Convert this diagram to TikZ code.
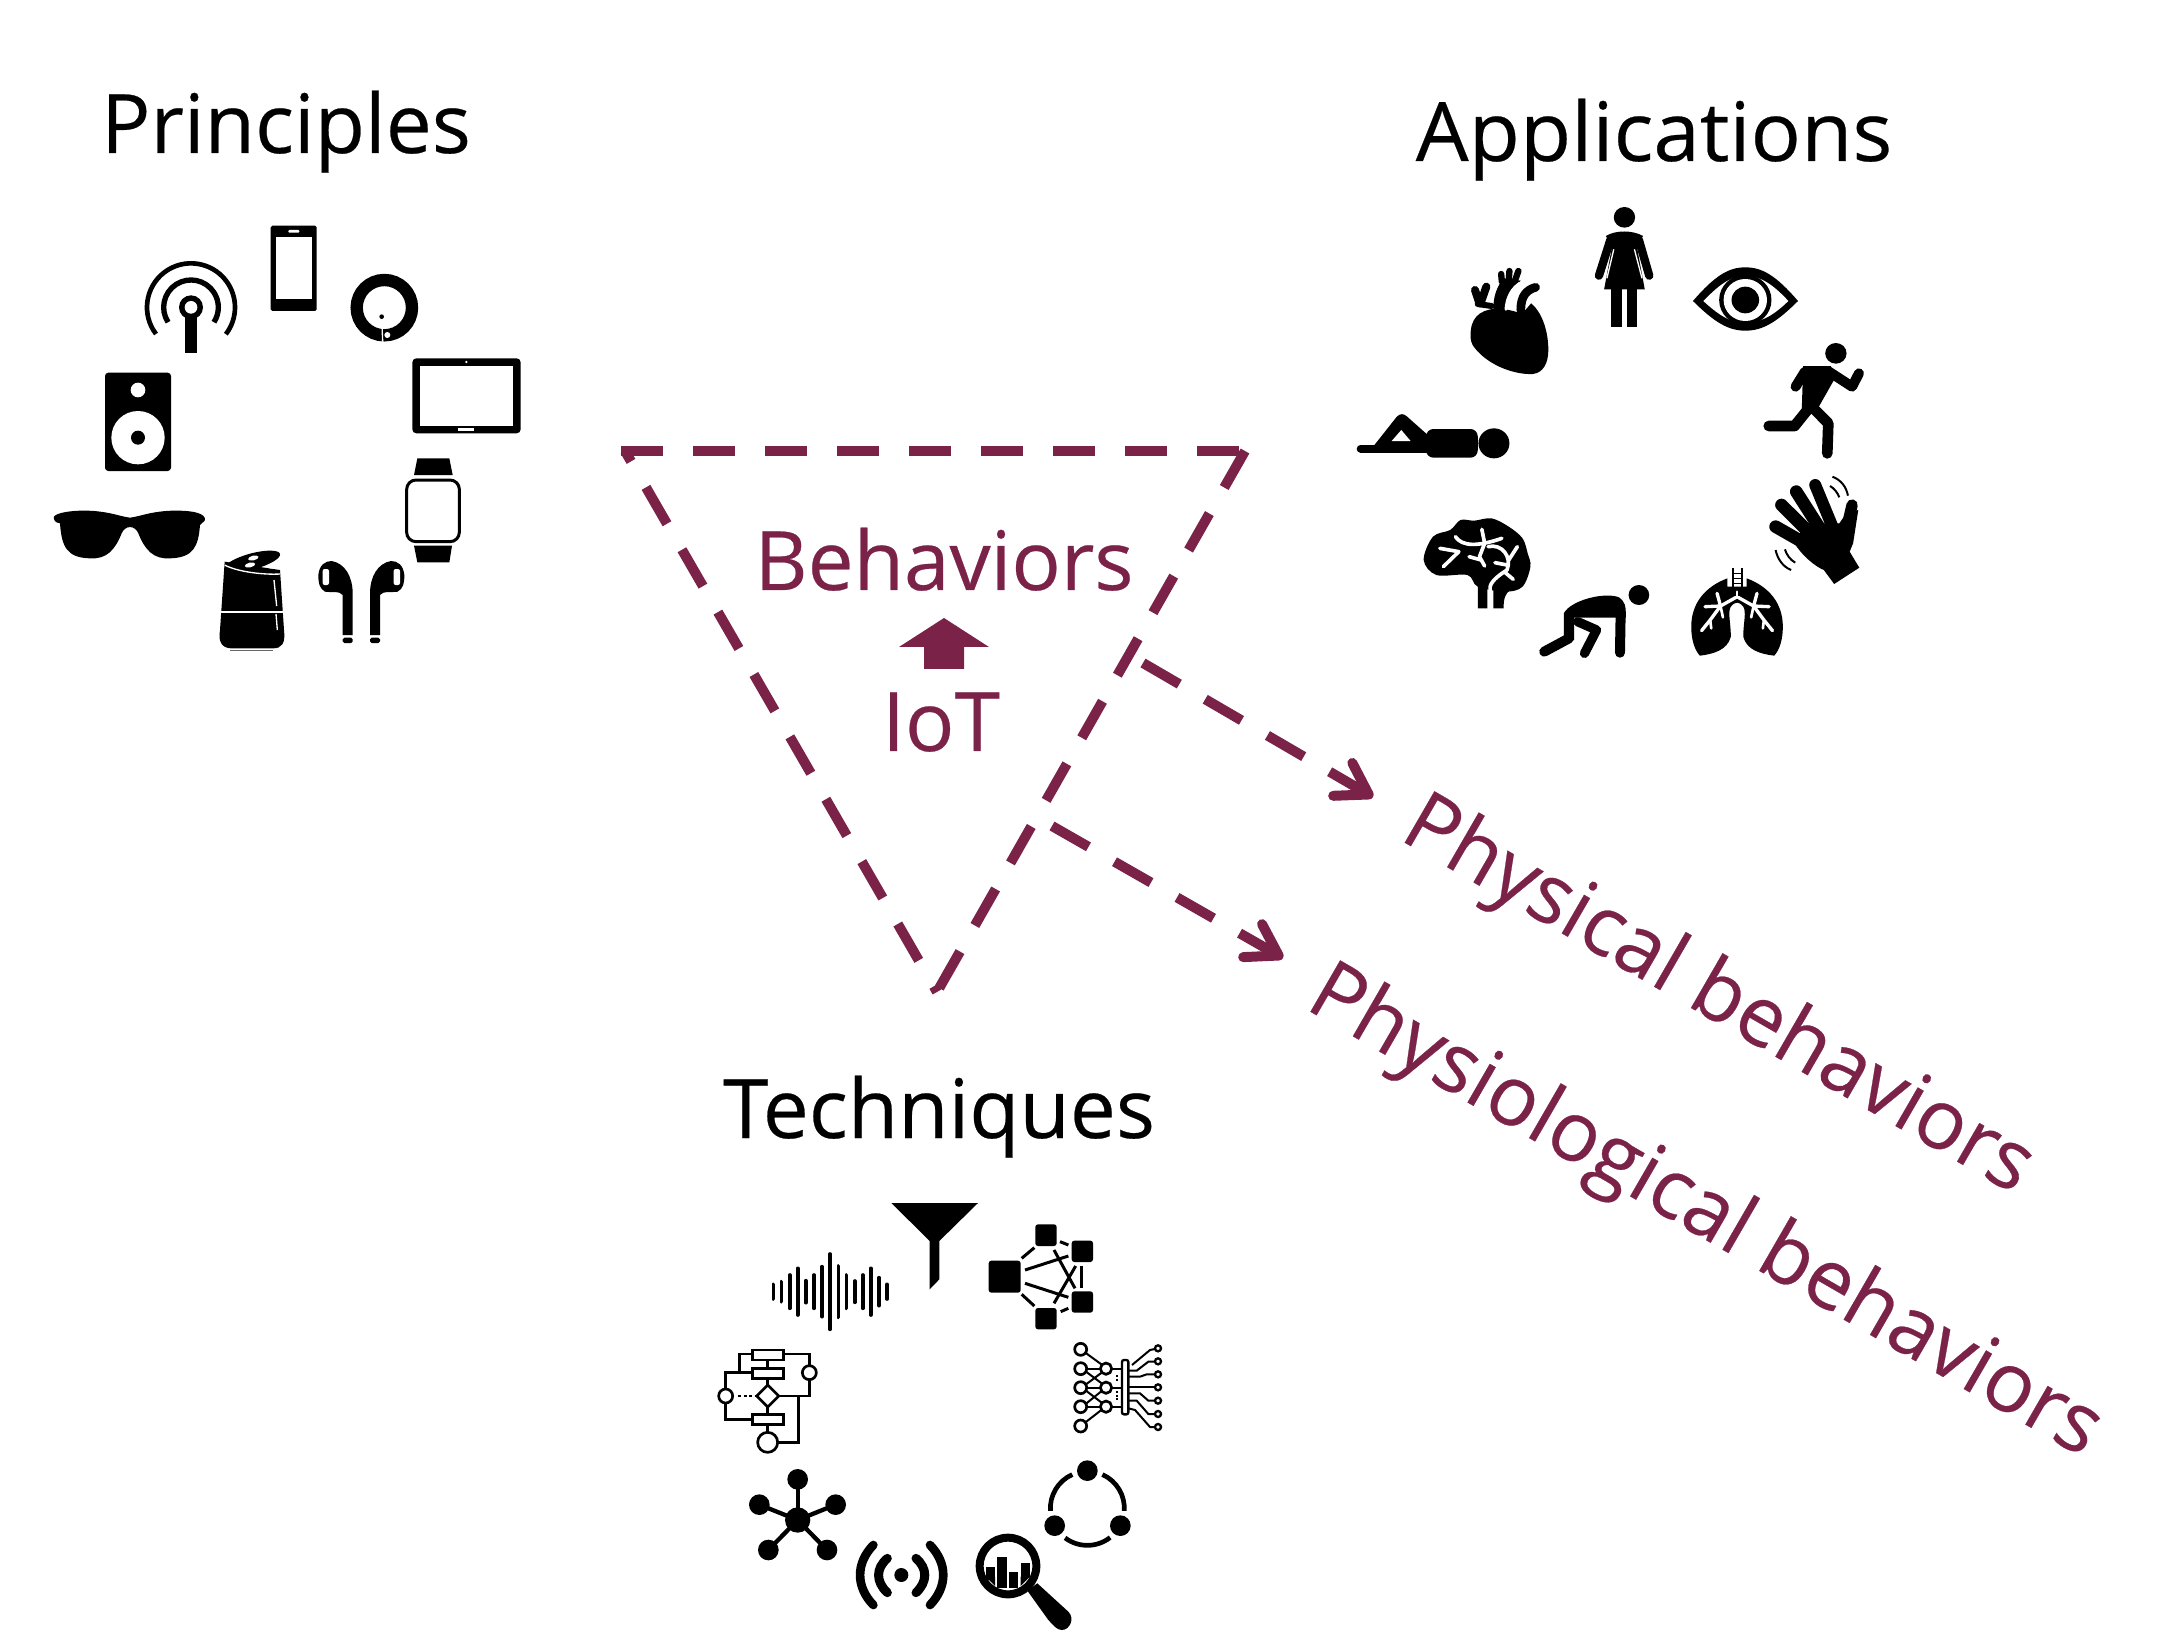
\documentclass[tikz,border=0pt]{standalone}
\usepackage{fontspec}
\usepackage{graphicx}
\setmainfont{Open Sans}
\newfontfamily\labelfont{Open Sans}[FakeBold=0.3]
\usetikzlibrary{arrows.meta}
\definecolor{maroon}{HTML}{7A2248}
\tikzset{
  zl/.style={line width=#1*.1667pt},
  rc/.style={rounded corners=#1*.1667pt},
  ztext/.style={inner sep=0pt,anchor=base,font=\labelfont\fontsize{41}{49}\selectfont},
  title/.style={ztext,text=black},
  accent/.style={ztext,text=maroon},
  slanted/.style={inner sep=0pt,anchor=center,rotate=-30,text=maroon,font=\labelfont\fontsize{41.5}{49}\selectfont},
  dashline/.style={draw=maroon,line width=5pt,dash pattern=on 21pt off 15pt},
  dasharrow/.style={dashline,-{Straight Barb[length=15pt,width=19pt,round]}},
  groupone/.style={shift={(30,200)},x=.16667pt,y=-.16667pt},
  grouptwo/.style={shift={(1340,190)},x=.17218pt,y=-.16667pt},
  groupthree/.style={shift={(700,1180)},x=.16667pt,y=-.16667pt},
  icon/.style={draw=black,fill=none,line cap=round,line join=round}
}
\begin{document}
\begin{tikzpicture}[x=.5pt,y=-.5pt]
\useasboundingbox (0,0) rectangle (2181,1636);

% titles
\node[title] (principles) at (286,153) {Principles};
\node[title] (applications) at (1654,161) {\scalebox{1.02}[1]{Applications}};
\node[title] (techniques) at (939,1138) {Techniques};
\node[accent] (behaviors) at (944,590) {Behaviors};
\node[accent] (iot) at (941,751) {IoT};
\node[slanted] (physical) at (1717,998) {Physical behaviors};
\node[slanted] (physiological) at (1704,1214) {Physiological behaviors};

% triangle and arrows
\coordinate (tl) at (621,451);
\coordinate (tr) at (1245,451);
\coordinate (ap) at (937,992);
\coordinate (tll) at (625,451);
\draw[dashline] (tl) -- (tr);
\draw[dashline] (tr) -- (ap);
\draw[dashline,dash phase=15pt] (tll) -- (ap);
\coordinate (aone) at (1143,663);
\coordinate (bone) at (1373,797);
\coordinate (atwo) at (1052,826);
\coordinate (btwo) at (1283,958);
\draw[dasharrow] (aone) -- (bone);
\draw[dasharrow] (atwo) -- (btwo);
\fill[maroon] (944,618) -- (989,647) -- (964,647) -- (964,669) -- (924,669) -- (924,647) -- (899,647) -- cycle;

% ------------------- Principles
\begin{scope}[groupone]
% phone
\fill[rc=5] (722,77) rectangle (860,333);
\fill[white] (738,112) rectangle (845,298);
\fill[white,rc=3] (775,90) rectangle (808,98);
% ring
\draw[zl=37] (1063,323) circle (83);
\draw[white,zl=4] (1055,350) -- (1058,425);
\fill (1055,350) circle (7);
\fill[white] (1072,405) circle (9);
% tablet
\fill[rc=12] (1147,475) rectangle (1472,700);
\fill[white] (1170,497) rectangle (1448,677);
\fill[white] (1309,486) circle (4);
\fill[white] (1285,685) rectangle (1333,692);
% watch
\fill (1162,775) -- (1258,775) -- (1268,825) -- (1152,825) -- cycle;
\fill (1152,1037) -- (1266,1037) -- (1258,1087) -- (1162,1087) -- cycle;
\draw[zl=9,rc=28] (1130,840) rectangle (1288,1025);
% earbuds
\foreach \sx/\tx in {1/0,-1/1988}{
\begin{scope}[shift={(\tx,0)},xscale=\sx]
\fill (938,1305) -- (938,1185) .. controls (930,1172) and (900,1178) .. (885,1175) .. controls (868,1165) and (865,1150) .. (865,1125) .. controls (868,1095) and (885,1083) .. (905,1083) .. controls (945,1090) and (968,1130) .. (968,1180) -- (968,1305) -- cycle;
\fill[white,rc=6] (878,1107) rectangle (897,1155);
\fill[rc=5] (938,1313) rectangle (968,1329);
\end{scope}}
% smart speaker
\fill (584,1085) -- (570,1290) .. controls (563,1330) and (580,1345) .. (605,1345) -- (730,1345) .. controls (755,1345) and (767,1330) .. (762,1290) -- (750,1110) -- cycle;
\fill (667,1084) ellipse [x radius=86,y radius=24,rotate=15];
\draw[white,zl=4] (584,1095) .. controls (620,1115) and (700,1125) .. (750,1122);
\fill[white] (608,1065) ellipse [x radius=16,y radius=7,rotate=13];
\fill[white] (670,1074) ellipse [x radius=16,y radius=7,rotate=13];
\fill[white] (660,1095) ellipse [x radius=16,y radius=7,rotate=13];
\fill[white] (730,1098) ellipse [x radius=16,y radius=7,rotate=13];
\draw[white,zl=5] (570,1235) -- (762,1235);
\draw[white,zl=4] (732,1140) -- (740,1218);
\draw[white,zl=4] (738,1242) -- (742,1290);
\draw[black!60,zl=4] (600,1352) -- (730,1352);
% glasses
\fill (72,950) .. controls (80,938) and (120,933) .. (150,932) .. controls (230,930) and (270,950) .. (300,953) .. controls (330,950) and (370,930) .. (450,932) .. controls (490,933) and (527,940) .. (525,960) .. controls (520,970) and (512,968) .. (510,975) .. controls (505,1040) and (490,1073) .. (420,1075) .. controls (370,1078) and (345,1050) .. (325,1000) .. controls (315,975) and (285,975) .. (275,1000) .. controls (255,1050) and (230,1078) .. (180,1075) .. controls (110,1073) and (95,1040) .. (90,970) .. controls (75,968) and (70,960) .. (72,950) -- cycle;
% loudspeaker
\fill[rc=10] (225,518) rectangle (423,813);
\fill[white] (324,570) circle (22);
\fill[white] (324,713) circle (80);
\fill (324,713) circle (21);
% antenna
\draw[zl=14] (483,322) ++(142.7:132) arc[start angle=142.7,end angle=397.6,radius=132];
\draw[zl=16] (483,322) ++(147:82) arc[start angle=147,end angle=393,radius=82];
\fill (465,345) rectangle (500,458);
\fill (483,322) circle (36);
\fill[white] (483,322) circle (19);
\end{scope}

% ------------------- Applications
\begin{scope}[grouptwo]
% woman
\fill (826,82) circle (31);
\draw[zl=25,icon] (785,150) -- (752,257);
\draw[zl=25,icon] (868,150) -- (898,257);
\fill (772,138) .. controls (800,120) and (850,120) .. (880,138) -- (862,170) -- (885,298) -- (767,298) -- (790,170) -- cycle;
\draw[white,zl=4] (795,178) -- (775,265);
\draw[white,zl=4] (855,178) -- (877,265);
\fill (787,298) rectangle (818,412);
\fill (833,298) rectangle (863,412);
% eye
\fill (1025,333) .. controls (1090,255) and (1130,232) .. (1177,232) .. controls (1225,232) and (1265,255) .. (1330,333) .. controls (1265,400) and (1225,422) .. (1177,422) .. controls (1130,422) and (1090,400) .. (1025,333) -- cycle;
\fill[white] (1055,333) .. controls (1110,275) and (1140,258) .. (1177,258) .. controls (1215,258) and (1250,275) .. (1302,333) .. controls (1250,385) and (1215,398) .. (1177,398) .. controls (1140,398) and (1110,385) .. (1055,333) -- cycle;
\fill (1177,330) circle (76);
\fill[white] (1177,330) circle (63);
\fill (1177,330) circle (40);
% runner
\fill (1440,490) circle (31);
\fill[line join=round] (1345,528) -- (1425,528) -- (1440,560) -- (1385,660) -- (1340,690) -- cycle;
\draw[zl=30,icon] (1350,545) -- (1323,590);
\draw[zl=30,icon] (1420,545) -- (1487,590) -- (1507,550);
\draw[zl=32,icon] (1365,650) -- (1320,708) -- (1245,708);
\draw[zl=32,icon] (1370,650) -- (1418,700) -- (1415,790);
% hand
\draw[zl=38,icon] (1265,1010) -- (1350,1060);
\draw[zl=38,icon] (1282,945) -- (1365,1030);
\draw[zl=38,icon] (1325,905) -- (1390,1010);
\draw[zl=36,icon] (1380,885) -- (1430,1010);
\draw[zl=34,icon] (1487,945) -- (1470,1020);
\fill (1320,1060) -- (1350,1000) -- (1450,1000) -- (1470,970) -- (1505,960) -- (1490,1060) -- (1480,1085) -- (1508,1133) -- (1435,1182) -- (1405,1140) .. controls (1380,1130) and (1340,1095) .. (1320,1060) -- cycle;
\draw[zl=6] (1430,860) .. controls (1455,870) and (1470,890) .. (1475,917);
\draw[zl=6] (1423,888) .. controls (1435,895) and (1445,908) .. (1450,922);
\draw[zl=6] (1265,1080) .. controls (1270,1105) and (1285,1130) .. (1310,1140);
\draw[zl=6] (1292,1078) .. controls (1297,1095) and (1308,1110) .. (1322,1118);
% lungs
\foreach \sx/\tx in {1/0,-1/2306}{
\begin{scope}[shift={(\tx,0)},xscale=\sx]
\fill (1125,1165) .. controls (1060,1190) and (1020,1240) .. (1020,1310) .. controls (1020,1350) and (1030,1380) .. (1045,1397) .. controls (1085,1392) and (1125,1380) .. (1135,1340) .. controls (1135,1300) and (1125,1265) .. (1135,1250) .. controls (1142,1240) and (1150,1238) .. (1153,1238) -- (1153,1190) -- (1125,1190) -- cycle;
\draw[white,zl=10,line cap=round,line join=round] (1150,1222) -- (1105,1248) -- (1060,1250);
\draw[white,zl=10,line cap=round] (1105,1248) -- (1095,1210);
\draw[white,zl=10,line cap=round,line join=round] (1105,1248) -- (1075,1290) -- (1050,1322);
\draw[white,zl=8,line cap=round] (1075,1290) -- (1078,1315);
\draw[white,zl=8,line cap=round] (1105,1248) -- (1112,1282);
\draw[white,zl=5] (1140,1133) -- (1140,1195);
\end{scope}}
\fill (1138,1133) rectangle (1143,1200);
\fill (1164,1133) rectangle (1169,1200);
\fill (1138,1148) rectangle (1169,1152);
\fill (1138,1163) rectangle (1169,1167);
\fill (1138,1178) rectangle (1169,1182);
\draw[white,zl=8,line cap=round] (1153,1205) -- (1153,1222);
% crawler
\fill (868,1215) circle (30);
\fill (650,1350) -- (650,1270) .. controls (670,1230) and (770,1205) .. (810,1222) .. controls (828,1235) and (830,1250) .. (830,1270) -- (830,1283) -- (680,1283) -- (680,1350) -- cycle;
\draw[zl=30,icon] (815,1270) -- (813,1388);
\draw[zl=30,icon] (665,1345) -- (593,1385);
\draw[zl=28,icon] (690,1295) -- (745,1320) -- (710,1390);
% brain
\fill plot[smooth cycle,tension=.55] coordinates {(243,1110) (270,1040) (320,1020) (350,990) (390,992) (440,985) (490,1010) (530,1045) (545,1090) (553,1130) (530,1190) (480,1205) (400,1190) (370,1155) (280,1155)};
\fill (400,1170) -- (400,1255) -- (428,1255) -- (428,1180) -- cycle;
\fill (445,1180) -- (445,1255) -- (475,1255) .. controls (475,1225) and (480,1210) .. (495,1200) -- cycle;
\draw[white,zl=11,line cap=round,line join=round] (290,1075) -- (345,1085) -- (300,1130);
\draw[white,zl=11,line cap=round,line join=round] (335,1040) .. controls (355,1070) and (400,1070) .. (470,1045);
\draw[white,zl=11,line cap=round,line join=round] (412,1018) -- (420,1060) -- (405,1100) -- (420,1128);
\draw[white,zl=11,line cap=round,line join=round] (375,1100) -- (410,1110);
\draw[white,zl=11,line cap=round,line join=round] (430,1070) .. controls (470,1060) and (500,1100) .. (485,1140) .. controls (470,1150) and (440,1170) .. (436,1190) -- (436,1255);
\draw[white,zl=11,line cap=round,line join=round] (515,1070) -- (490,1110);
\draw[white,zl=11,line cap=round,line join=round] (450,1118) -- (485,1125);
\draw[white,zl=11,line cap=round,line join=round] (480,1148) -- (503,1168);
% heart
\fill (380,420) .. controls (385,375) and (415,355) .. (470,355) -- (530,370) -- (555,340) .. controls (590,370) and (605,430) .. (605,480) .. controls (605,520) and (590,548) .. (560,552) .. controls (500,555) and (420,520) .. (385,465) .. controls (378,450) and (378,435) .. (380,420) -- cycle;
\fill (445,360) .. controls (445,320) and (455,290) .. (475,265) -- (525,272) -- (500,295) .. controls (485,320) and (482,340) .. (482,365) -- cycle;
\draw[zl=19,icon] (470,275) -- (468,252);
\draw[zl=19,icon] (490,270) -- (492,243);
\draw[zl=19,icon] (507,275) -- (518,243);
\draw[zl=26,icon] (525,360) .. controls (525,320) and (540,300) .. (568,292);
\draw[white,zl=9,line cap=round] (482,358) .. controls (485,320) and (500,295) .. (522,280);
\draw[zl=24,line join=round,line cap=round] (405,340) -- (392,300);
\draw[zl=24,line join=round,line cap=round] (408,340) -- (425,290);
\draw[zl=18,line join=round,line cap=round] (400,342) -- (440,348);
% lying figure
\fill (447,760) circle (45);
\fill[rc=22] (250,717) rectangle (400,803);
\draw[zl=24,icon] (60,776) -- (265,776);
\fill[line join=round] (100,765) -- (165,680) .. controls (175,670) and (185,670) .. (195,680) -- (255,735) -- (255,765) -- cycle;
\fill[white] (150,753) -- (178,720) -- (205,753) -- cycle;
\end{scope}

% ------------------- Techniques
\begin{scope}[groupthree]
% funnel
\fill (574,69) -- (834,69) -- (718,183) -- (718,298) -- (689,328) -- (689,183) -- cycle;
% waveform
\foreach \bx/\bh in {220/22,244/30,269/50,293/70,317/33,342/50,366/75,390/113,415/77,439/50,464/32,488/50,512/70,537/42,561/22}{
  \draw[zl=11,line cap=round] (\bx,335-\bh) -- (\bx,335+\bh);
}
% network
\fill[rc=8] (866,242) rectangle (962,338);
\fill[rc=8] (1006,133) rectangle (1070,198);
\fill[rc=8] (1115,182) rectangle (1179,246);
\fill[rc=8] (1115,334) rectangle (1179,398);
\fill[rc=8] (1006,384) rectangle (1070,448);
\foreach \ax/\ay/\bx/\by in {965/235/1003/203,1080/185/1105/195,965/343/1003/378,1082/395/1105/385,975/270/1105/228,975/310/1105/352,1062/210/1125/325,1127/258/1062/370,1145/258/1145/325}{
  \draw[zl=9] (\ax,\ay) -- (\bx,\by);
}
% chip
\foreach \cy in {508,566,623,680,738}{\draw[zl=8] (1142,\cy) circle (18);}
\foreach \cy in {566,623,680}{\draw[zl=8] (1218,\cy) circle (17);}
\draw[zl=7,rc=6] (1266,540) rectangle (1285,703);
\foreach \cy in {505,544,583,622,662,702,741}{\draw[zl=7] (1374,\cy) circle (9);}
\foreach \ax/\ay/\bx/\by in {1156/518/1204/553,1160/566/1201/566,1158/575/1205/610,1158/613/1205/578,1160/623/1201/623,1158/632/1205/668,1158/671/1205/633,1160/680/1201/680,1155/728/1204/690,1235/566/1266/566,1235/623/1266/623,1235/680/1266/680}{
  \draw[zl=6] (\ax,\ay) -- (\bx,\by);
}
\draw[zl=6] (1296,555) -- (1350,510) -- (1365,507);
\draw[zl=6] (1285,572) -- (1310,572) -- (1345,545) -- (1365,545);
\draw[zl=6] (1285,590) -- (1320,590) -- (1340,583) -- (1365,583);
\draw[zl=6] (1285,622) -- (1365,622);
\draw[zl=6] (1285,640) -- (1320,640) -- (1345,662) -- (1365,662);
\draw[zl=6] (1285,662) -- (1310,662) -- (1345,702) -- (1365,702);
\draw[zl=6] (1285,685) -- (1305,690) -- (1350,741) -- (1365,741);
\foreach \dy in {585,598,633,645,655}{\fill (1248,\dy) rectangle (1254,\dy+6);}
% flow chart
\draw[zl=8] (157,510) rectangle (250,540);
\draw[zl=8] (157,565) rectangle (250,595);
\draw[zl=8] (157,703) rectangle (250,733);
\draw[zl=8] (203,615) -- (236,648) -- (203,681) -- (170,648) -- cycle;
\draw[zl=8] (328,578) circle (21);
\draw[zl=8] (77,648) circle (21);
\draw[zl=8] (203,787) circle (30);
\draw[zl=8] (157,522) -- (118,522) -- (118,578);
\draw[zl=8] (157,578) -- (77,578) -- (77,627);
\draw[zl=8] (250,522) -- (328,522) -- (328,557);
\draw[zl=8] (328,599) -- (328,648) -- (236,648);
\draw[zl=8] (203,540) -- (203,565);
\draw[zl=8] (203,595) -- (203,615);
\draw[zl=8] (203,681) -- (203,703);
\draw[zl=8] (203,733) -- (203,757);
\draw[zl=8] (77,669) -- (77,718) -- (157,718);
\draw[zl=8] (295,648) -- (295,787) -- (233,787);
\draw[zl=8,dash pattern=on 1.6pt off 1.2pt] (114,648) -- (166,648);
% hub
\foreach \hx/\hy in {293/898,178/974,407/974,205/1110,381/1110}{
  \draw[zl=13] (293,1020) -- (\hx,\hy);
  \fill (\hx,\hy) circle (31);
}
\fill (293,1020) circle (38);
% broadcast
\fill (604,1185) circle (21);
\draw[zl=27,line cap=round] (562,1135) .. controls (527,1165) and (527,1205) .. (562,1238);
\draw[zl=27,line cap=round] (648,1135) .. controls (683,1165) and (683,1205) .. (648,1238);
\draw[zl=26,line cap=round] (520,1095) .. controls (467,1150) and (467,1220) .. (520,1275);
\draw[zl=26,line cap=round] (690,1095) .. controls (743,1150) and (743,1220) .. (690,1275);
% magnifier
\fill (858,1160) rectangle (885,1200);
\fill (892,1132) rectangle (920,1225);
\fill (927,1175) rectangle (955,1225);
\fill (962,1150) rectangle (990,1190);
\fill (858,1190) -- (885,1190) -- (885,1218) -- cycle;
\fill (990,1190) -- (962,1190) -- (962,1218) -- cycle;
\draw[zl=24] (924,1158) circle (85);
\fill (982,1232) -- (1012,1210) -- (1105,1295) .. controls (1125,1315) and (1110,1350) .. (1085,1350) .. controls (1070,1350) and (1060,1335) .. (1045,1320) -- cycle;
% triad
\fill (1162,872) circle (31);
\fill (1064,1037) circle (31);
\fill (1261,1037) circle (31);
\draw[zl=14] (1162,985) ++(176:111) arc[start angle=176,end angle=246,radius=111];
\draw[zl=14] (1162,985) ++(294:111) arc[start angle=294,end angle=364,radius=111];
\draw[zl=14] (1162,985) ++(52:111) arc[start angle=52,end angle=127,radius=111];
\end{scope}
\end{tikzpicture}
\end{document}
